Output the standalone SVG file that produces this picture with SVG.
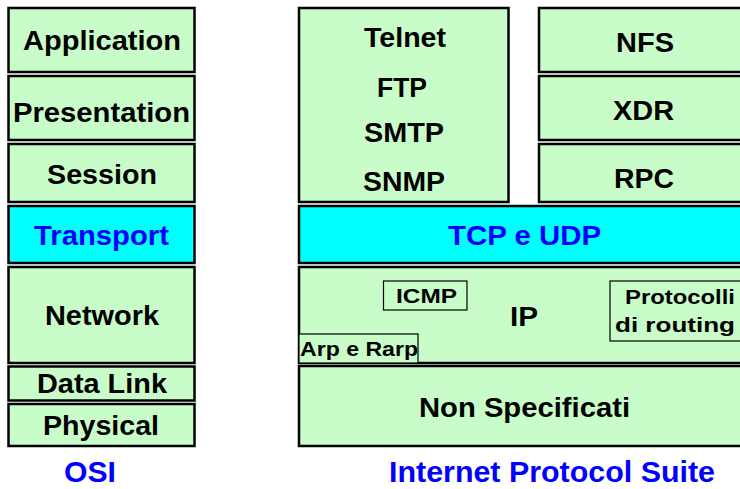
<svg xmlns="http://www.w3.org/2000/svg" width="740" height="489" viewBox="0 0 740 489">
<style>
  .box { fill: #C8FCC8; stroke: #000; stroke-width: 2.5; }
  .cyan { fill: #00FFFF; stroke: #000; stroke-width: 2.5; }
  .sub { fill: #C8FCC8; stroke: #000; stroke-width: 1.2; }
  text { font-family: "Liberation Sans", Arial, Helvetica, sans-serif; font-weight: bold; text-anchor: middle; fill: #000; }
  .l { font-size: 27px; }
  .s { font-size: 21px; }
  .blue { fill: #0000FF; }
  .cap { font-size: 30px; fill: #0000FF; }
</style>
<rect width="740" height="489" fill="#fff"/>
<g id="osi">
  <g id="osi-application"><rect class="box" x="8.5" y="8" width="186" height="64"/><text class="l" x="102" y="50" textLength="158" lengthAdjust="spacingAndGlyphs">Application</text></g>
  <g id="osi-presentation"><rect class="box" x="8.5" y="76" width="186" height="64"/><text class="l" x="101.5" y="122" textLength="177" lengthAdjust="spacingAndGlyphs">Presentation</text></g>
  <g id="osi-session"><rect class="box" x="8.5" y="144" width="186" height="58"/><text class="l" x="102" y="184" textLength="110" lengthAdjust="spacingAndGlyphs">Session</text></g>
  <g id="osi-transport"><rect class="cyan" x="8.5" y="206" width="186" height="57"/><text class="l blue" x="101.5" y="245" textLength="135" lengthAdjust="spacingAndGlyphs">Transport</text></g>
  <g id="osi-network"><rect class="box" x="8.5" y="267" width="186" height="96"/><text class="l" x="102" y="325" textLength="114" lengthAdjust="spacingAndGlyphs">Network</text></g>
  <g id="osi-datalink"><rect class="box" x="8.5" y="366.5" width="186" height="34"/><text class="l" x="102" y="393" textLength="130" lengthAdjust="spacingAndGlyphs">Data Link</text></g>
  <g id="osi-physical"><rect class="box" x="8.5" y="404" width="186" height="42"/><text class="l" x="101" y="435" textLength="116" lengthAdjust="spacingAndGlyphs">Physical</text></g>
  <text class="cap" x="90" y="482" textLength="52" lengthAdjust="spacingAndGlyphs">OSI</text>
</g>
<g id="ips">
  <g id="ips-apps"><rect class="box" x="299" y="8" width="209.5" height="194"/>
    <text class="l" x="405" y="47" textLength="82" lengthAdjust="spacingAndGlyphs">Telnet</text>
    <text class="l" x="402" y="97" textLength="50" lengthAdjust="spacingAndGlyphs">FTP</text>
    <text class="l" x="404" y="142" textLength="80" lengthAdjust="spacingAndGlyphs">SMTP</text>
    <text class="l" x="404" y="191" textLength="82" lengthAdjust="spacingAndGlyphs">SNMP</text>
  </g>
  <g id="ips-nfs"><rect class="box" x="539" y="8" width="221" height="64"/><text class="l" x="645" y="52" textLength="58" lengthAdjust="spacingAndGlyphs">NFS</text></g>
  <g id="ips-xdr"><rect class="box" x="539" y="76" width="221" height="64"/><text class="l" x="643.5" y="120" textLength="61" lengthAdjust="spacingAndGlyphs">XDR</text></g>
  <g id="ips-rpc"><rect class="box" x="539" y="144" width="221" height="58"/><text class="l" x="644" y="188" textLength="60" lengthAdjust="spacingAndGlyphs">RPC</text></g>
  <g id="ips-tcpudp"><rect class="cyan" x="299" y="206" width="461" height="57"/><text class="l blue" x="524.5" y="245" textLength="153" lengthAdjust="spacingAndGlyphs">TCP e UDP</text></g>
  <g id="ips-ip"><rect class="box" x="299" y="267" width="461" height="96"/><text class="l" x="524" y="326" textLength="28" lengthAdjust="spacingAndGlyphs">IP</text></g>
  <g id="ips-icmp"><rect class="sub" x="383.5" y="281" width="83.5" height="29"/><text class="s" x="426.5" y="303" textLength="61" lengthAdjust="spacingAndGlyphs">ICMP</text></g>
  <g id="ips-routing"><rect class="sub" x="610" y="281" width="150" height="60"/>
    <text class="s" x="680" y="304" textLength="110" lengthAdjust="spacingAndGlyphs">Protocolli</text>
    <text class="s" x="675" y="332" textLength="120" lengthAdjust="spacingAndGlyphs">di routing</text>
  </g>
  <g id="ips-arp"><rect class="sub" x="299" y="334" width="119" height="29"/><text class="s" x="359" y="356" textLength="118" lengthAdjust="spacingAndGlyphs">Arp e Rarp</text></g>
  <g id="ips-nonspec"><rect class="box" x="299" y="366" width="461" height="80"/><text class="l" x="524.5" y="417" textLength="211" lengthAdjust="spacingAndGlyphs">Non Specificati</text></g>
  <text class="cap" x="552" y="482" textLength="326" lengthAdjust="spacingAndGlyphs">Internet Protocol Suite</text>
</g>
<g id="connectors"/>
</svg>
